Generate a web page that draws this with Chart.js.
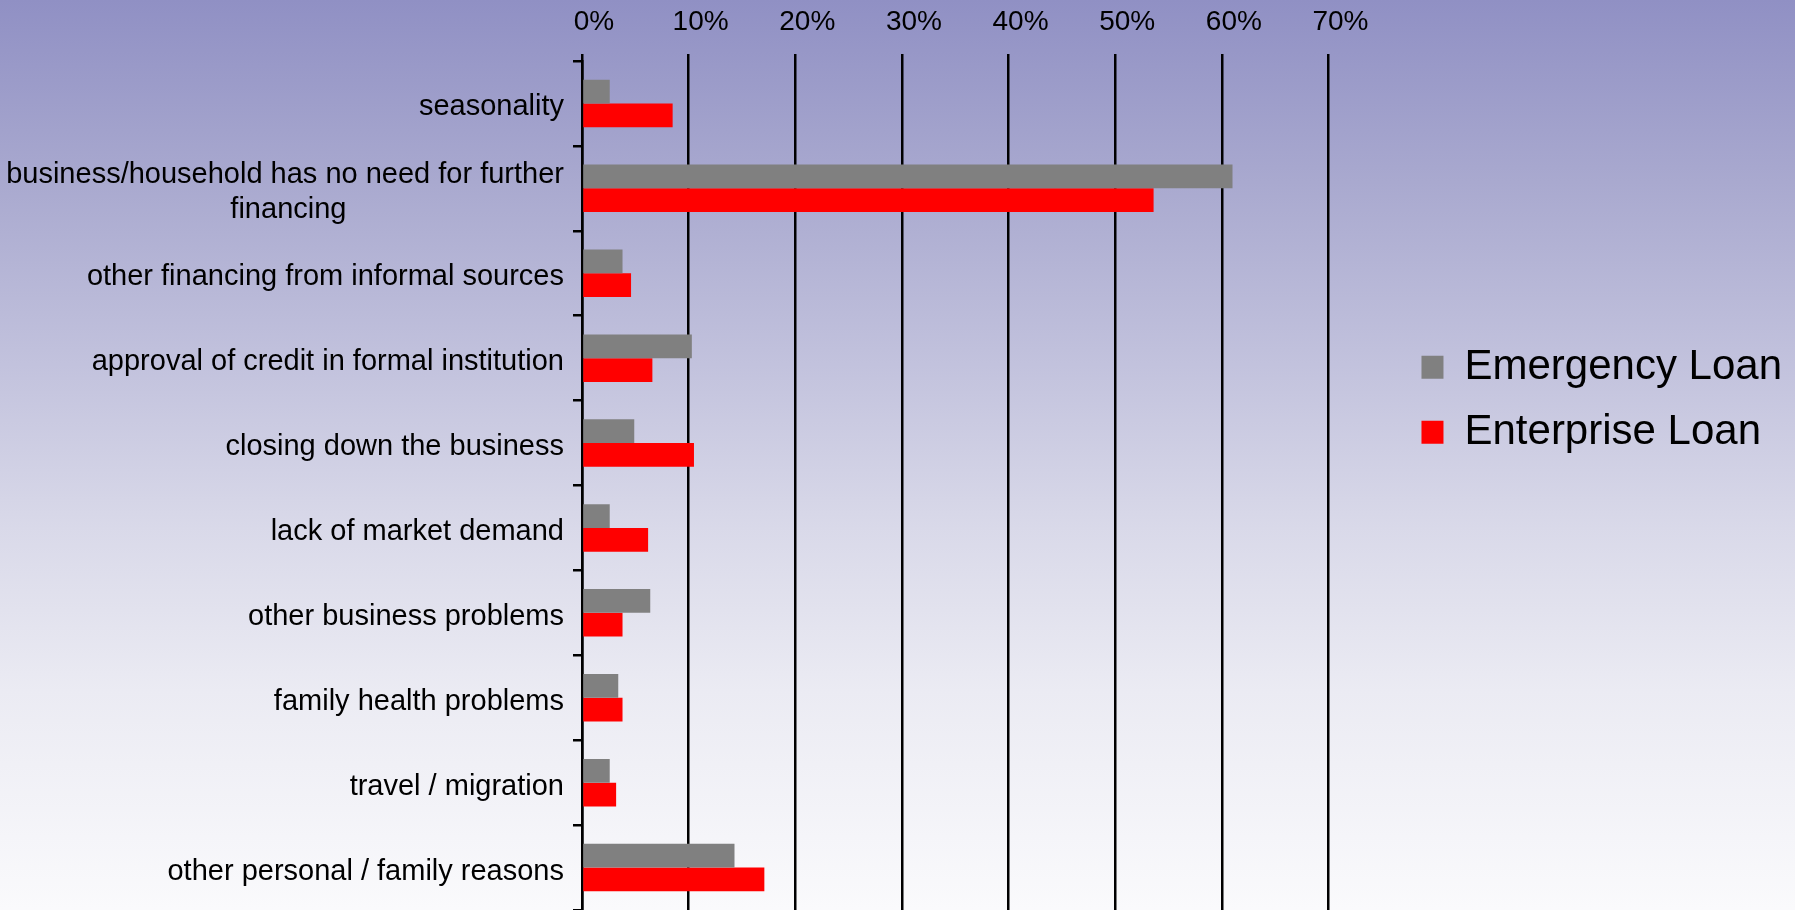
<!DOCTYPE html>
<html lang="en">
<head>
    <meta charset="UTF-8">
    <title>Reasons for not taking a further loan</title>
    <style>
        body {
            margin: 0;
            width: 1795px;
            height: 910px;
            overflow: hidden;
            background: linear-gradient(to bottom, #9090c4 0%, #a9a9cf 20%, #c2c2dd 40%, #d9d9e9 58%, #ebebf3 76%, #fafafc 100%);
        }
        canvas {
            display: block;
        }
    </style>
    <script src="https://cdn.jsdelivr.net/npm/chart.js"></script>
</head>
<body>
    <canvas id="reasonsChart" width="1795" height="910"></canvas>

    <script>
        // Reasons given, top to bottom
        const categories = [
            'seasonality',
            ['business/household has no need for further', 'financing'],
            'other financing from informal sources',
            'approval of credit in formal institution',
            'closing down the business',
            'lack of market demand',
            'other business problems',
            'family health problems',
            'travel / migration',
            'other personal / family reasons'
        ];

        // Share of respondents (%)
        const emergencyLoan = [2.6, 61.0, 3.8, 10.3, 4.9, 2.6, 6.4, 3.4, 2.6, 14.3];
        const enterpriseLoan = [8.5, 53.6, 4.6, 6.6, 10.5, 6.2, 3.8, 3.8, 3.2, 17.1];

        const xMax = 70;
        const xStep = 10;

        const fontFamily = "'Liberation Sans', Arial, sans-serif";
        const labelFont = { family: fontFamily, size: 29 };

        // pad the shorter lines of a wrapped label so the lines sit centred on each other
        const measureCtx = document.createElement('canvas').getContext('2d');
        function centerLines(lines) {
            measureCtx.font = labelFont.size + 'px ' + fontFamily;
            const widths = lines.map(l => measureCtx.measureText(l).width);
            const widest = Math.max(...widths);
            const space = measureCtx.measureText(' ').width;
            return lines.map((l, i) => l + ' '.repeat(Math.round((widest - widths[i]) / 2 / space)));
        }

        new Chart(document.getElementById('reasonsChart'), {
            type: 'bar',
            data: {
                labels: categories,
                datasets: [{
                    label: 'Emergency Loan',
                    data: emergencyLoan,
                    backgroundColor: '#808080',
                    borderWidth: 0
                }, {
                    label: 'Enterprise Loan',
                    data: enterpriseLoan,
                    backgroundColor: '#ff0000',
                    borderWidth: 0
                }]
            },
            options: {
                indexAxis: 'y',
                responsive: false,
                animation: false,
                categoryPercentage: 0.56,
                barPercentage: 1,
                layout: { padding: { right: 3 } },
                scales: {
                    x: {
                        position: 'top',
                        min: 0,
                        max: xMax,
                        ticks: {
                            stepSize: xStep,
                            color: '#000',
                            font: { family: fontFamily, size: 28 },
                            padding: 15,
                            labelOffset: 12,
                            callback: v => v + '%'
                        },
                        grid: {
                            color: '#000',
                            lineWidth: 2.5,
                            drawTicks: true,
                            tickLength: 7
                        },
                        border: { display: false },
                        afterFit: s => { s.height = 61; }
                    },
                    y: {
                        ticks: {
                            color: '#000',
                            font: labelFont,
                            padding: 9,
                            labelOffset: 4,
                            callback: function (value) {
                                const label = this.getLabelForValue(value);
                                return Array.isArray(label) ? centerLines(label) : label;
                            }
                        },
                        grid: {
                            drawOnChartArea: false,
                            color: '#000',
                            lineWidth: 2.5,
                            tickLength: 9
                        },
                        border: { color: '#000', width: 2.5 },
                        afterFit: s => {
                            s.width = 582;
                            // let the bars run right to the bottom edge
                            s.paddingTop = 0;
                            s.paddingBottom = 0;
                        }
                    },
                    // empty gap between the plot and the legend
                    gap: {
                        type: 'linear',
                        position: 'right',
                        ticks: { display: false },
                        grid: { display: false },
                        border: { display: false },
                        afterFit: s => { s.width = 70; }
                    }
                },
                plugins: {
                    tooltip: { enabled: false },
                    legend: {
                        position: 'right',
                        align: 'start',
                        maxWidth: 500,
                        title: {
                            display: true,
                            text: '',
                            font: { size: 1 },
                            padding: { top: 322, bottom: 0 }
                        },
                        labels: {
                            color: '#000',
                            font: { family: fontFamily, size: 42 },
                            boxWidth: 22,
                            boxHeight: 23,
                            padding: 23
                        }
                    }
                }
            }
        });
    </script>
</body>
</html>
